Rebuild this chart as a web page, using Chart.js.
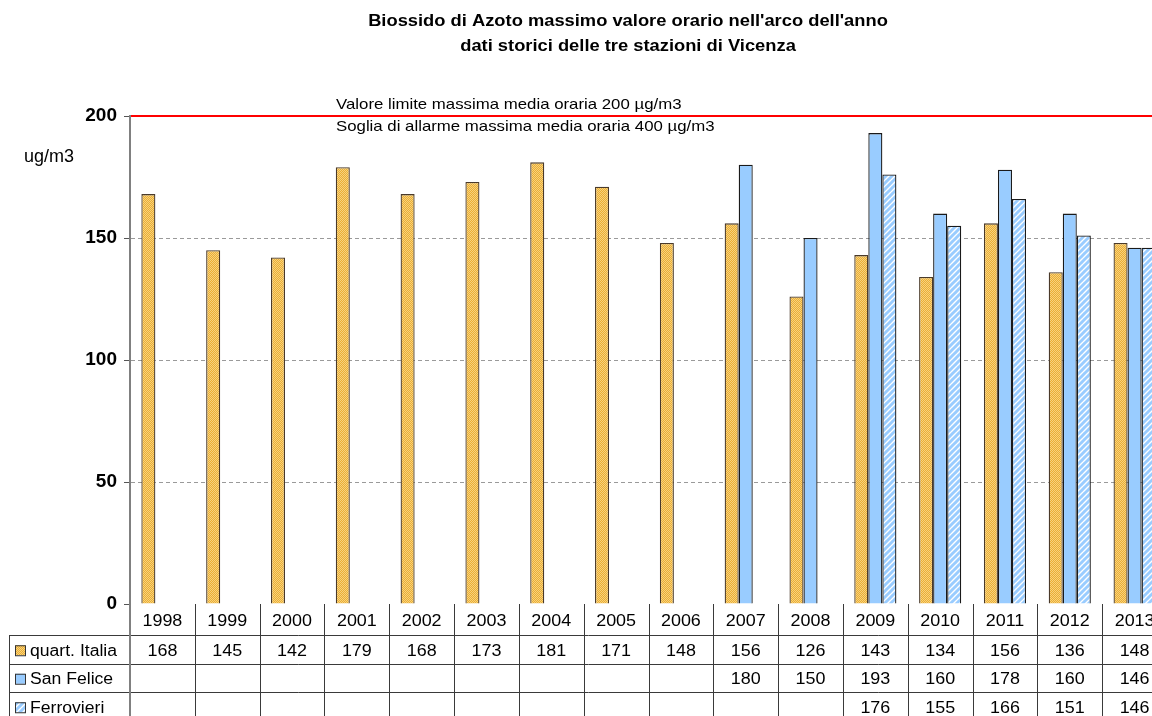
<!DOCTYPE html>
<html>
<head>
<meta charset="utf-8">
<script src="https://cdn.jsdelivr.net/npm/chart.js@4.4.1/dist/chart.umd.min.js"></script>
<style>
  html, body { margin: 0; padding: 0; background: #fff; overflow: hidden; }
  #wrap { width: 1168px; height: 716px; }
</style>
</head>
<body>
<div id="wrap"><canvas id="grafico" width="1168" height="716"></canvas></div>
<script>
// Anni e valori massimi orari di NO2 per stazione
const anni = ['1998', '1999', '2000', '2001', '2002', '2003', '2004', '2005', '2006', '2007', '2008', '2009', '2010', '2011', '2012', '2013'];
const quartItalia = [168, 145, 142, 179, 168, 173, 181, 171, 148, 156, 126, 143, 134, 156, 136, 148];
const sanFelice = [null, null, null, null, null, null, null, null, null, 180, 150, 193, 160, 178, 160, 146];
const ferrovieri = [null, null, null, null, null, null, null, null, null, null, null, 176, 155, 166, 151, 146];
const stazioni = ['quart. Italia', 'San Felice', 'Ferrovieri'];
const tickAsse = [0, 50, 100, 150, 200];
const valoreLimite = 200;

const titolo = ["Biossido di Azoto massimo valore orario nell'arco dell'anno", 'dati storici delle tre stazioni di Vicenza'];
const note = ['Valore limite massima media oraria 200 µg/m3', 'Soglia di allarme massima media oraria 400 µg/m3'];

const FONT = '"Liberation Sans", Arial, sans-serif';

const ctxTmp = document.getElementById('grafico').getContext('2d');

function pattern(fn, size) {
    const c = document.createElement('canvas');
    c.width = size;
    c.height = size;
    fn(c.getContext('2d'));
    return ctxTmp.createPattern(c, 'repeat');
}

// arancio puntinato
const arancio = pattern(g => {
    g.fillStyle = '#EBAE34';
    g.fillRect(0, 0, 2, 2);
    g.fillStyle = '#F7D27E';
    g.fillRect(0, 0, 1, 1);
    g.fillRect(1, 1, 1, 1);
}, 2);

// azzurro tratteggiato in diagonale
const tratteggio = pattern(g => {
    g.fillStyle = '#ffffff';
    g.fillRect(0, 0, 6, 6);
    g.strokeStyle = '#99CCFF';
    g.lineWidth = 3;
    for (let k = -6; k <= 6; k += 6) {
        g.beginPath();
        g.moveTo(k - 1, 7);
        g.lineTo(k + 7, -1);
        g.stroke();
    }
}, 6);

const riempimenti = [arancio, '#99CCFF', tratteggio];
const bordi = ['#4a3a2a', '#1a1a1a', '#1a1a1a'];

// testo leggermente allargato in orizzontale
function testo(ctx, s, x, y, allarga) {
    ctx.save();
    ctx.translate(x, y);
    ctx.scale(allarga, 1);
    ctx.fillText(s, 0, 0);
    ctx.restore();
}

// Titolo, linea limite, note e tabella dati
const decorazioni = {
    id: 'decorazioni',
    beforeDraw(chart) {
        const ctx = chart.ctx;
        ctx.save();
        ctx.fillStyle = '#fff';
        ctx.fillRect(0, 0, chart.width, chart.height);
        ctx.restore();
    },
    afterDraw(chart) {
        const ctx = chart.ctx;
        const area = chart.chartArea;
        const xs = chart.scales.x;
        const ys = chart.scales.y;
        ctx.save();

        // titolo
        ctx.fillStyle = '#000';
        ctx.textAlign = 'center';
        ctx.textBaseline = 'middle';
        ctx.font = 'bold 16px ' + FONT;
        testo(ctx, titolo[0], 628, 22, 1.145);
        testo(ctx, titolo[1], 628, 47, 1.145);

        // unità di misura
        ctx.textAlign = 'left';
        ctx.font = '18px ' + FONT;
        ctx.fillText('ug/m3', 24, 157);

        // linea del valore limite
        const yLim = ys.getPixelForValue(valoreLimite);
        ctx.strokeStyle = '#FF0000';
        ctx.lineWidth = 2;
        ctx.beginPath();
        ctx.moveTo(area.left + 1, yLim);
        ctx.lineTo(chart.width, yLim);
        ctx.stroke();

        ctx.font = '15px ' + FONT;
        testo(ctx, note[0], 336, 105, 1.12);
        testo(ctx, note[1], 336, 127, 1.12);

        // tabella dati: riga degli anni più alta, poi tre righe di serie
        const passo = xs.getPixelForValue(1) - xs.getPixelForValue(0);
        const top = area.bottom;
        const righe = [top, top + 31, top + 59.5, top + 88, top + 116.5];
        const sinistra = 9;
        ctx.strokeStyle = '#3a3a3a';
        ctx.lineWidth = 1;
        ctx.beginPath();
        for (let r = 1; r <= 3; r++) {
            const y = Math.round(righe[r]) + 0.5;
            ctx.moveTo(sinistra, y);
            ctx.lineTo(chart.width, y);
        }
        ctx.moveTo(sinistra + 0.5, righe[1]);
        ctx.lineTo(sinistra + 0.5, chart.height);
        anni.forEach((a, i) => {
            const x = Math.round(xs.getPixelForValue(i) + passo / 2) + 0.5;
            ctx.moveTo(x, top);
            ctx.lineTo(x, chart.height);
        });
        ctx.stroke();

        // prolungamento dell'asse verticale
        ctx.strokeStyle = '#808080';
        ctx.lineWidth = 2;
        ctx.beginPath();
        ctx.moveTo(area.left, top);
        ctx.lineTo(area.left, chart.height);
        ctx.stroke();

        ctx.fillStyle = '#000';
        ctx.font = '16px ' + FONT;
        ctx.textAlign = 'center';
        const serie = [quartItalia, sanFelice, ferrovieri];
        const centro = r => (righe[r] + righe[r + 1]) / 2 + 2;
        anni.forEach((a, i) => {
            const x = xs.getPixelForValue(i);
            testo(ctx, a, x, centro(0), 1.12);
            serie.forEach((s, r) => {
                if (s[i] !== null) testo(ctx, String(s[i]), x, centro(r + 1), 1.12);
            });
        });

        // legenda nella tabella
        ctx.textAlign = 'left';
        stazioni.forEach((nome, r) => {
            const yc = centro(r + 1);
            ctx.fillStyle = riempimenti[r];
            ctx.fillRect(15, yc - 6, 10, 10);
            ctx.strokeStyle = '#333';
            ctx.lineWidth = 1;
            ctx.strokeRect(15.5, yc - 5.5, 10, 10);
            ctx.fillStyle = '#000';
            testo(ctx, nome, 30, yc, 1.1);
        });
        ctx.restore();
    }
};

new Chart(document.getElementById('grafico'), {
    type: 'bar',
    data: {
        labels: anni,
        datasets: [quartItalia, sanFelice, ferrovieri].map((d, i) => ({
            label: stazioni[i],
            data: d,
            backgroundColor: riempimenti[i],
            borderColor: bordi[i],
            borderWidth: 1.3,
            categoryPercentage: 0.65,
            barPercentage: 1
        }))
    },
    options: {
        responsive: false,
        animation: false,
        events: [],
        layout: { padding: { top: 116, bottom: 112, left: 0, right: 1 } },
        plugins: {
            legend: { display: false },
            title: { display: false },
            tooltip: { enabled: false }
        },
        scales: {
            x: { display: false },
            y: {
                min: 0,
                max: 200,
                afterFit(scale) { scale.width = 130; },
                afterBuildTicks(scale) { scale.ticks = tickAsse.map(v => ({ value: v })); },
                border: { display: true, color: '#808080', width: 2, dash: [4, 3] },
                grid: {
                    color: ctx => (ctx.tick && (ctx.tick.value === 0 || ctx.tick.value === 200)) ? 'rgba(0,0,0,0)' : '#9a9a9a',
                    drawTicks: true,
                    tickLength: 6,
                    tickColor: '#555',
                    tickWidth: 1,
                    tickBorderDash: []
                },
                ticks: {
                    color: '#000',
                    padding: 7,
                    font: { family: FONT, size: 19, weight: 'bold' }
                }
            }
        }
    },
    plugins: [decorazioni]
});
</script>
</body>
</html>
